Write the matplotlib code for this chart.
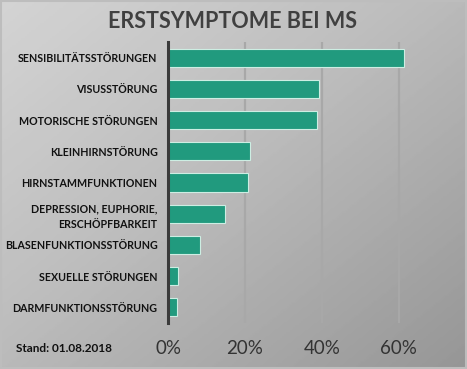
import numpy as np
import matplotlib
matplotlib.use("Agg")
import matplotlib.pyplot as plt
from matplotlib.ticker import FuncFormatter

# data (share of patients)
categories = [
    "SENSIBILITÄTSSTÖRUNGEN",
    "VISUSSTÖRUNG",
    "MOTORISCHE STÖRUNGEN",
    "KLEINHIRNSTÖRUNG",
    "HIRNSTAMMFUNKTIONEN",
    "DEPRESSION, EUPHORIE,\nERSCHÖPFBARKEIT",
    "BLASENFUNKTIONSSTÖRUNG",
    "SEXUELLE STÖRUNGEN",
    "DARMFUNKTIONSSTÖRUNG",
]
values = [0.614, 0.394, 0.388, 0.214, 0.208, 0.148, 0.083, 0.026, 0.023]
xticks = [0.0, 0.2, 0.4, 0.6]

plt.rcParams['font.family'] = ['Lato', 'DejaVu Sans']

fig = plt.figure(figsize=(4.67, 3.69), dpi=100)

# background gradient, light top-left to grey bottom-right
bg = fig.add_axes([0, 0, 1, 1], zorder=-10)
yy, xx = np.mgrid[0:1:200j, 0:1:250j]
g = 0.5 * xx + 0.5 * yy
bg.imshow(g, cmap='Greys', vmin=-1.2, vmax=3.2, aspect='auto',
          extent=[0, 1, 0, 1], origin='upper', interpolation='bilinear')
bg.set_xlim(0, 1)
bg.set_ylim(0, 1)
bg.axis('off')
# border
bg.add_patch(plt.Rectangle((0.002, 0.003), 0.995, 0.994, fill=False,
                           edgecolor='#bdbdbd', linewidth=1.5,
                           transform=bg.transAxes))

ax = fig.add_axes([168/467, 46/369, 269/467, 281/369])
ax.patch.set_alpha(0)
y = np.arange(len(categories))
ax.barh(y, values, height=0.58, color='#219a7e', edgecolor='#cdeee3',
        linewidth=0.8, zorder=3)
ax.set_ylim(len(categories) - 0.5, -0.5)
ax.set_xlim(0, 0.7)
ax.set_yticks(y)
ax.set_yticklabels(categories, fontsize=7.7, fontweight='bold',
                   color='#111111', linespacing=1.45)
ax.set_xticks(xticks)
ax.xaxis.set_major_formatter(FuncFormatter(lambda v, p: f"{v*100:.0f}%"))
ax.tick_params(axis='x', labelsize=13.5, colors='#333333', length=0, pad=12)
ax.tick_params(axis='y', length=0, pad=7.5)
ax.grid(axis='x', color='#a8a8a8', linewidth=1.6, zorder=0)
for s in ['top', 'right', 'bottom']:
    ax.spines[s].set_visible(False)
ax.spines['left'].set_color('#3a3a3a')
ax.spines['left'].set_linewidth(2.2)
ax.spines['left'].set_zorder(4)

fig.text(232/467, 1 - 21/369, "ERSTSYMPTOME BEI MS", ha='center', va='center',
         fontsize=15.5, fontweight='bold', color='#404040')
fig.text(16/467, 1 - 349/369, "Stand: 01.08.2018", ha='left', va='center',
         fontsize=8.5, fontweight='bold', color='#111111')

fig.savefig("out.png", dpi=100)
